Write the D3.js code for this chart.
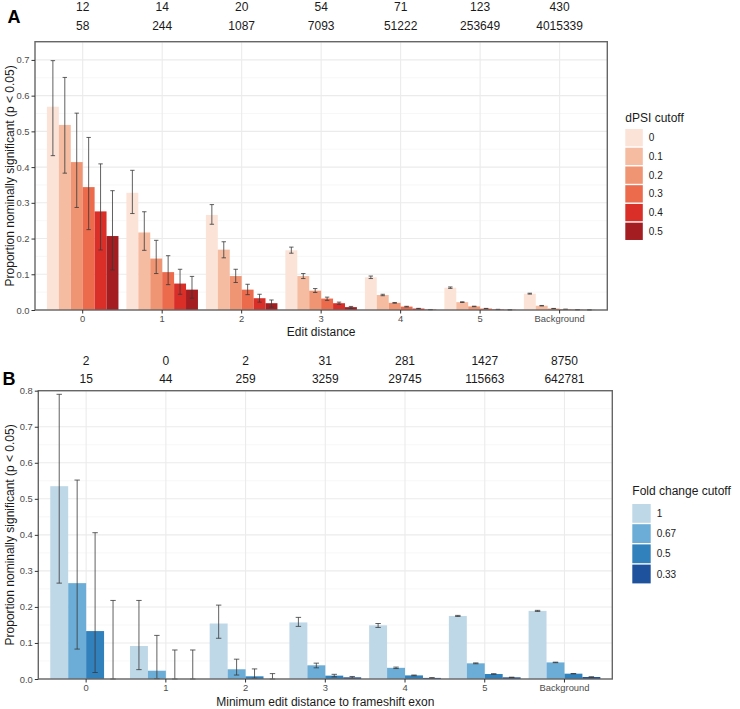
<!DOCTYPE html>
<html>
<head>
<meta charset="utf-8">
<script src="https://cdn.jsdelivr.net/npm/d3@7"></script>
<style>
  html, body { margin: 0; padding: 0; background: #fff; }
  svg { display: block; font-family: "Liberation Sans", Arial, sans-serif; }
</style>
</head>
<body>
<svg id="chart" width="740" height="709"></svg>
<script>
// ---------------- DATA ----------------
const categories = ["0", "1", "2", "3", "4", "5", "Background"];

// Panel A: dPSI cutoffs, rows = cutoff, cols = category
const dpsiCutoffs = ["0", "0.1", "0.2", "0.3", "0.4", "0.5"];
const dpsiValue = [
  [0.569, 0.328, 0.266, 0.167, 0.0915, 0.0625, 0.0457],
  [0.518, 0.217, 0.169, 0.095, 0.042, 0.022, 0.012],
  [0.414, 0.144, 0.095, 0.054, 0.020, 0.010, 0.004],
  [0.344, 0.106, 0.057, 0.032, 0.0095, 0.004, 0.002],
  [0.276, 0.074, 0.033, 0.019, 0.004, 0.0015, 0.0008],
  [0.207, 0.057, 0.019, 0.008, 0.001, 0.0005, 0.0003]
];
const dpsiLow = [
  [0.432, 0.270, 0.240, 0.159, 0.088, 0.0605, 0.0445],
  [0.383, 0.167, 0.146, 0.088, 0.040, 0.021, 0.0113],
  [0.287, 0.102, 0.077, 0.049, 0.019, 0.0093, 0.0036],
  [0.225, 0.071, 0.043, 0.027, 0.0086, 0.0035, 0.0017],
  [0.168, 0.044, 0.022, 0.016, 0.0034, 0.0011, 0.0006],
  [0.112, 0.033, 0.008, 0.005, 0.0007, 0.0002, 0.0001]
];
const dpsiHigh = [
  [0.698, 0.391, 0.295, 0.176, 0.095, 0.0645, 0.047],
  [0.651, 0.275, 0.191, 0.102, 0.044, 0.023, 0.0127],
  [0.551, 0.195, 0.114, 0.060, 0.021, 0.0107, 0.0044],
  [0.483, 0.152, 0.072, 0.036, 0.0104, 0.0045, 0.0023],
  [0.409, 0.114, 0.044, 0.022, 0.0046, 0.0019, 0.001],
  [0.334, 0.094, 0.028, 0.010, 0.0014, 0.0008, 0.0005]
];
const dpsiColors = ["#fce3d7", "#f5bca1", "#ef9573", "#eb6b4c", "#da2f28", "#a31d21"];
const countsA1 = ["12", "14", "20", "54", "71", "123", "430"];
const countsA2 = ["58", "244", "1087", "7093", "51222", "253649", "4015339"];

// Panel B: fold change cutoffs
const fcCutoffs = ["1", "0.67", "0.5", "0.33"];
const fcValue = [
  [0.535, 0.0916, 0.154, 0.157, 0.149, 0.175, 0.189],
  [0.266, 0.023, 0.027, 0.038, 0.031, 0.0435, 0.046],
  [0.133, 0, 0.0074, 0.0093, 0.010, 0.0139, 0.0148],
  [0, 0, 0, 0.0046, 0.003, 0.0046, 0.0055]
];
const fcLow = [
  [0.266, 0.026, 0.113, 0.146, 0.143, 0.1735, 0.1875],
  [0.083, 0.001, 0.011, 0.031, 0.029, 0.0423, 0.0453],
  [0.018, 0, 0.002, 0.006, 0.009, 0.0132, 0.0143],
  [0, 0, 0, 0.002, 0.0023, 0.0042, 0.0051]
];
const fcHigh = [
  [0.790, 0.218, 0.205, 0.171, 0.154, 0.1765, 0.1905],
  [0.552, 0.121, 0.055, 0.044, 0.033, 0.0447, 0.0467],
  [0.406, 0.0805, 0.028, 0.013, 0.011, 0.0146, 0.0153],
  [0.218, 0.0805, 0.015, 0.007, 0.0037, 0.005, 0.0059]
];
const fcColors = ["#bed8e8", "#6badd6", "#3181bd", "#1f529d"];
const countsB1 = ["2", "0", "2", "31", "281", "1427", "8750"];
const countsB2 = ["15", "44", "259", "3259", "29745", "115663", "642781"];

const yTicksA = [0, 0.1, 0.2, 0.3, 0.4, 0.5, 0.6, 0.7];
const yTicksB = [0, 0.1, 0.2, 0.3, 0.4, 0.5, 0.6, 0.7, 0.8];

// ---------------- DRAW ----------------
const svg = d3.select("#chart");

function drawPanel(cfg) {
  const g = svg.append("g");
  const x = d3.scaleBand().domain(categories)
    .range([cfg.left, cfg.right]).paddingInner(0).paddingOuter(0.1);
  const step = x.step();
  const xs = d3.scaleBand().domain(cfg.cutoffs)
    .range([0.05 * step, 0.95 * step]).padding(0);
  const y = d3.scaleLinear().domain([0, cfg.yMax]).range([cfg.bottom, cfg.top]);

  // minor grid
  const minor = [];
  for (let v = 0.05; v < cfg.yMax; v += 0.1) minor.push(+v.toFixed(2));
  g.append("g").selectAll("line").data(minor).join("line")
    .attr("x1", cfg.left).attr("x2", cfg.right)
    .attr("y1", d => y(d)).attr("y2", d => y(d))
    .attr("stroke", "#f1f1f1").attr("stroke-width", 0.6);
  // major grid
  g.append("g").selectAll("line").data(cfg.yTicks).join("line")
    .attr("x1", cfg.left).attr("x2", cfg.right)
    .attr("y1", d => y(d)).attr("y2", d => y(d))
    .attr("stroke", "#ebebeb").attr("stroke-width", 1.1);
  g.append("g").selectAll("line").data(categories).join("line")
    .attr("x1", d => x(d) + step / 2).attr("x2", d => x(d) + step / 2)
    .attr("y1", cfg.top).attr("y2", cfg.bottom)
    .attr("stroke", "#ebebeb").attr("stroke-width", 1.1);

  // bars
  const bars = [];
  cfg.cutoffs.forEach((c, si) => {
    categories.forEach((cat, ci) => {
      bars.push({ cat, c, si, v: cfg.values[si][ci], lo: cfg.low[si][ci], hi: cfg.high[si][ci] });
    });
  });
  g.append("g").selectAll("rect").data(bars.filter(d => d.v > 0)).join("rect")
    .attr("x", d => x(d.cat) + xs(d.c))
    .attr("width", xs.bandwidth())
    .attr("y", d => y(d.v))
    .attr("height", d => cfg.bottom - y(d.v))
    .attr("fill", d => cfg.colors[d.si]);

  // error bars
  const eg = g.append("g").attr("stroke", "#3a3a3a").attr("stroke-opacity", 0.8)
    .attr("stroke-width", 1).attr("fill", "none");
  bars.forEach(d => {
    const cx = x(d.cat) + xs(d.c) + xs.bandwidth() / 2;
    const p = d3.path();
    p.moveTo(cx, y(d.hi)); p.lineTo(cx, y(d.lo));
    p.moveTo(cx - cfg.cap, y(d.hi)); p.lineTo(cx + cfg.cap, y(d.hi));
    p.moveTo(cx - cfg.cap, y(d.lo)); p.lineTo(cx + cfg.cap, y(d.lo));
    eg.append("path").attr("d", p.toString());
  });

  // border
  g.append("rect").attr("x", cfg.left).attr("y", cfg.top)
    .attr("width", cfg.right - cfg.left).attr("height", cfg.bottom - cfg.top)
    .attr("fill", "none").attr("stroke", "#666").attr("stroke-width", 1.4);

  // axes
  const yAxis = g.append("g").attr("transform", `translate(${cfg.left},0)`)
    .call(d3.axisLeft(y).tickValues(cfg.yTicks).tickFormat(d3.format(".1f")).tickSize(3.5).tickPadding(2));
  const xAxis = g.append("g").attr("transform", `translate(0,${cfg.bottom})`)
    .call(d3.axisBottom(x).tickSize(3.5).tickPadding(2));
  [yAxis, xAxis].forEach(a => {
    a.select(".domain").remove();
    a.selectAll(".tick line").attr("stroke", "#333");
    a.selectAll(".tick text").attr("fill", "#4d4d4d")
      .style("font-size", "9.4px").style("font-family", "Liberation Sans, Arial, sans-serif");
  });

  // counts on top
  g.append("g").selectAll("text").data(cfg.counts1).join("text")
    .attr("x", (d, i) => x(categories[i]) + step / 2).attr("y", cfg.countY1)
    .attr("text-anchor", "middle").attr("font-size", 12).attr("fill", "#1a1a1a").text(d => d);
  g.append("g").selectAll("text").data(cfg.counts2).join("text")
    .attr("x", (d, i) => x(categories[i]) + step / 2).attr("y", cfg.countY2)
    .attr("text-anchor", "middle").attr("font-size", 12).attr("fill", "#1a1a1a").text(d => d);

  // titles
  g.append("text").attr("transform", `translate(${cfg.yTitleX},${(cfg.top + cfg.bottom) / 2}) rotate(-90)`)
    .attr("text-anchor", "middle").attr("font-size", 12).attr("fill", "#1a1a1a")
    .text("Proportion nominally significant (p < 0.05)");
  g.append("text").attr("x", (cfg.left + cfg.right) / 2).attr("y", cfg.xTitleY)
    .attr("text-anchor", "middle").attr("font-size", 12).attr("fill", "#1a1a1a").text(cfg.xTitle);

  // panel tag
  g.append("text").attr("x", cfg.tagX).attr("y", cfg.tagY)
    .attr("font-size", 18).attr("font-weight", "bold").attr("fill", "#000").text(cfg.tag);

  // legend
  const lg = g.append("g");
  lg.append("text").attr("x", cfg.legX).attr("y", cfg.legTitleY)
    .attr("font-size", 12).attr("fill", "#1a1a1a").text(cfg.legTitle);
  cfg.cutoffs.forEach((c, i) => {
    const yy = cfg.legKeyY + i * cfg.legStep;
    lg.append("rect").attr("x", cfg.legX).attr("y", yy)
      .attr("width", cfg.legKey).attr("height", cfg.legStep - 1.4)
      .attr("fill", cfg.colors[i]);
    lg.append("text").attr("x", cfg.legX + cfg.legKey + 6).attr("y", yy + (cfg.legStep - 1.4) / 2 + 3.5)
      .attr("font-size", 10).attr("fill", "#1a1a1a").text(c);
  });
}

drawPanel({
  left: 35, right: 607.3, top: 41.7, bottom: 310, yMax: 0.751, yTicks: yTicksA,
  cutoffs: dpsiCutoffs, values: dpsiValue, low: dpsiLow, high: dpsiHigh, colors: dpsiColors,
  cap: 2.2, counts1: countsA1, counts2: countsA2, countY1: 11, countY2: 29.5,
  yTitleX: 14, xTitle: "Edit distance", xTitleY: 336,
  tag: "A", tagX: 7.5, tagY: 22.5,
  legX: 625.3, legTitle: "dPSI cutoff", legTitleY: 122, legKeyY: 129, legStep: 18.73, legKey: 17.5
});

drawPanel({
  left: 38.3, right: 612.3, top: 390.7, bottom: 679, yMax: 0.8, yTicks: yTicksB,
  cutoffs: fcCutoffs, values: fcValue, low: fcLow, high: fcHigh, colors: fcColors,
  cap: 2.7, counts1: countsB1, counts2: countsB2, countY1: 364.5, countY2: 382.7,
  yTitleX: 14, xTitle: "Minimum edit distance to frameshift exon", xTitleY: 706,
  tag: "B", tagX: 2.5, tagY: 385,
  legX: 632.3, legTitle: "Fold change cutoff", legTitleY: 495, legKeyY: 504, legStep: 20.2, legKey: 18.4
});
</script>
</body>
</html>
